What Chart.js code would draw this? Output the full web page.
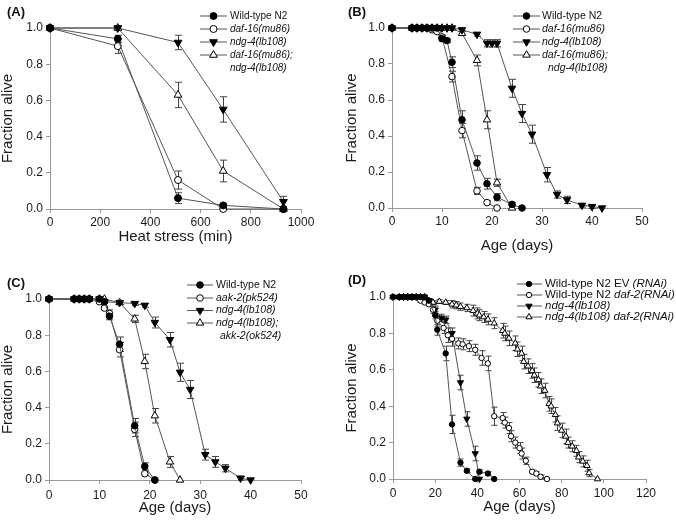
<!DOCTYPE html>
<html><head><meta charset="utf-8">
<script src="https://cdn.jsdelivr.net/npm/chart.js@4.4.1/dist/chart.umd.min.js"></script>
<style>
html,body{margin:0;padding:0;background:#fff;}
#wrap{position:relative;width:676px;height:521px;overflow:hidden;background:#fff;}
canvas{position:absolute;}
</style>
</head><body>
<div id="wrap">
<canvas id="cA" width="338" height="260" style="left:0;top:0;width:338px;height:260px"></canvas>
<canvas id="cB" width="338" height="260" style="left:338px;top:0;width:338px;height:260px"></canvas>
<canvas id="cC" width="338" height="261" style="left:0;top:260px;width:338px;height:261px"></canvas>
<canvas id="cD" width="338" height="261" style="left:338px;top:260px;width:338px;height:261px"></canvas>
</div>
<script>
// ---------- Panel A : heat stress ----------
const aTime = [0, 270, 510, 690, 930];
const aWT = [1.0, 0.94, 0.06, 0.02, 0.0];
const aWTErr = [0, 0.02, 0.03, 0.01, 0];
const aDaf16 = [1.0, 0.90, 0.16, 0.0, 0.0];
const aDaf16Err = [0, 0.04, 0.05, 0, 0];
const aNdg4 = [1.0, 1.0, 0.92, 0.55, 0.04];
const aNdg4Err = [0, 0, 0.04, 0.07, 0.03];
const aDouble = [1.0, 1.0, 0.63, 0.21, 0.0];
const aDoubleErr = [0, 0.01, 0.07, 0.06, 0];

// ---------- Panel B : lifespan daf-16 ----------
const bWTDays = [0,4,5,6,7,8,9,10,11,12,14,17,19,21,24,26];
const bWT = [1,1,1,1,1,1,1,0.94,0.93,0.81,0.49,0.25,0.135,0.06,0.02,0];
const bWTErr = [0,0,0,0,0,0,0,0.01,0.01,0.03,0.05,0.04,0.03,0.02,0.01,0];
const bDaf16Days = [0,4,5,6,7,8,9,10,12,14,17,19,21];
const bDaf16 = [1,1,1,1,1,0.99,0.98,0.95,0.73,0.43,0.095,0.03,0];
const bDaf16Err = [0,0,0,0,0,0,0,0.01,0.03,0.04,0.02,0.01,0];
const bNdg4Days = [0,4,5,6,7,8,9,10,11,12,14,17,19,20,21,24,26,28,31,33,35,38,40,42];
const bNdg4 = [1,1,1,1,1,1,1,1,1,1,0.99,0.965,0.915,0.915,0.915,0.665,0.525,0.41,0.185,0.075,0.045,0.015,0.008,0];
const bNdg4Err = [0,0,0,0,0,0,0,0,0,0,0,0.01,0.02,0.02,0.02,0.05,0.05,0.05,0.04,0.02,0.02,0.01,0.01,0];
const bDoubleDays = [0,4,5,6,7,8,9,10,11,12,14,17,19,21,24];
const bDouble = [1,1,1,1,1,1,1,1,1,1,0.97,0.82,0.49,0.14,0];
const bDoubleErr = [0,0,0,0,0,0,0,0,0,0,0.01,0.03,0.05,0.02,0];

// ---------- Panel C : lifespan aak-2 ----------
const cWTDays = [0,5,6,7,8,10,11,12,14,17,19,21];
const cWT = [1,1,1,1,1,1,0.985,0.905,0.75,0.30,0.075,0];
const cWTErr = [0,0,0,0,0,0,0.01,0.02,0.04,0.04,0.02,0];
const cAak2Days = [0,5,6,7,8,10,11,12,14,17,19,21];
const cAak2 = [1,1,1,1,1,0.985,0.95,0.92,0.72,0.28,0.035,0];
const cAak2Err = [0,0,0,0,0,0,0.01,0.02,0.04,0.04,0.01,0];
const cNdg4Days = [0,5,6,7,8,10,11,14,17,19,21,24,26,28,31,33,35,38,40];
const cNdg4 = [1,1,1,1,1,1,0.985,0.98,0.975,0.965,0.87,0.775,0.595,0.50,0.14,0.10,0.065,0.01,0];
const cNdg4Err = [0,0,0,0,0,0,0,0.01,0.01,0.01,0.03,0.04,0.05,0.05,0.03,0.03,0.02,0.01,0];
const cDoubleDays = [0,5,6,7,8,10,11,14,17,19,21,24,26];
const cDouble = [1,1,1,1,1,1,1,0.98,0.89,0.655,0.355,0.10,0];
const cDoubleErr = [0,0,0,0,0,0,0,0.01,0.02,0.04,0.04,0.03,0];

// ---------- Panel D : lifespan daf-2 RNAi ----------
const dEVDays = [0,3,5,7,9,11,13,15,17,20,21,25,28,32,35,39,41,45,48];
const dEV = [1,1,1,1,1,1,1,1,0.98,0.90,0.82,0.69,0.30,0.09,0.045,0,0.04,0.03,0];
const dEVErr = [0,0,0,0,0,0,0,0,0.01,0.02,0.03,0.04,0.05,0.02,0.01,0,0.01,0.01,0];
const dDaf2Days = [0,3,5,7,9,11,13,15,17,19,21,24,26,28,31,33,36,39,42,45,48,52,53,55,56,58,60,61,63,66,68,70,73];
const dDaf2 = [1,1,1,1,1,1,0.98,0.97,0.96,0.93,0.87,0.83,0.79,0.77,0.745,0.74,0.73,0.71,0.665,0.635,0.345,0.335,0.31,0.28,0.235,0.20,0.17,0.14,0.10,0.04,0.03,0.012,0];
const dDaf2Err = [0,0,0,0,0,0,0.01,0.01,0.01,0.02,0.03,0.03,0.04,0.04,0.03,0.03,0.03,0.03,0.04,0.04,0.05,0.03,0.03,0.03,0.03,0.03,0.03,0.03,0.02,0.01,0.01,0.01,0];
const dNdg4Days = [0,3,5,7,9,11,13,15,17,20,23,25,28,32,35,39,41];
const dNdg4 = [1,1,1,1,1,1,1,1,0.98,0.93,0.885,0.875,0.80,0.53,0.33,0.14,0];
const dNdg4Err = [0,0,0,0,0,0,0,0,0.01,0.02,0.02,0.02,0.03,0.04,0.04,0.04,0];
const dDoubleDays = [0,3,5,7,9,11,13,15,17,19,22,25,28,30,32,35,38,40,41,43,45,48,52,53,55,58,59,61,62,64,66,67,69,70,72,74,75,77,78,80,82,83,85,87,88,90,92,93,97];
const dDouble = [1,1,1,1,1,1,1,1,0.98,0.97,0.975,0.97,0.96,0.955,0.947,0.94,0.925,0.91,0.90,0.89,0.877,0.856,0.815,0.80,0.773,0.746,0.713,0.69,0.645,0.62,0.594,0.57,0.545,0.51,0.486,0.413,0.40,0.353,0.307,0.267,0.234,0.20,0.18,0.155,0.12,0.097,0.073,0.033,0];
const dDoubleErr = [0,0,0,0,0,0,0,0,0.01,0.01,0.01,0.01,0.02,0.02,0.02,0.02,0.03,0.03,0.03,0.03,0.03,0.03,0.04,0.04,0.04,0.04,0.04,0.04,0.04,0.04,0.04,0.04,0.04,0.04,0.04,0.04,0.04,0.04,0.04,0.04,0.04,0.03,0.03,0.03,0.03,0.03,0.03,0.02,0];

// ---------- text ----------
const yTitle = 'Fraction alive';
const aXTitle = 'Heat stress (min)';
const ageTitle = 'Age (days)';
// legend entries: list of [text, italic] segments; null marker = continuation line
const aLegend = [[['Wild-type N2',0]], [['daf-16(mu86)',1]], [['ndg-4(lb108)',1]], [['daf-16(mu86);',1]], [['ndg-4(lb108)',1]]];
const bLegend = aLegend;
const cLegend = [[['Wild-type N2',0]], [['aak-2(pk524)',1]], [['ndg-4(lb108)',1]], [['ndg-4(lb108);',1]], [['akk-2(ok524)',1]]];
const dLegend = [[['Wild-type N2 EV ',0],['(RNAi)',1]], [['Wild-type N2 ',0],['daf-2(RNAi)',1]], [['ndg-4(lb108)',1]], [['ndg-4(lb108) daf-2(RNAi)',1]]];
const legendMarkers4 = ['fc','oc','dt','ut',null];
const legendMarkersD = ['fc','oc','dt','ut'];

const FONT = "'Liberation Sans', Arial, Helvetica, sans-serif";
const STY = {
  fc:{ps:'circle', fill:'#000', rot:0, tri:false},
  oc:{ps:'circle', fill:'#fff', rot:0, tri:false},
  dt:{ps:'triangle', fill:'#000', rot:180, tri:true},
  ut:{ps:'triangle', fill:'#fff', rot:0, tri:true}
};

function drawMarker(ctx, st, x, y, rc, rt){
  ctx.beginPath();
  if(!st.tri){ ctx.arc(x, y, rc, 0, Math.PI*2); }
  else {
    let a = st.rot*Math.PI/180;
    for(let k=0;k<3;k++){
      const px = x + Math.sin(a)*rt, py = y - Math.cos(a)*rt;
      if(k===0) ctx.moveTo(px,py); else ctx.lineTo(px,py);
      a += Math.PI*2/3;
    }
    ctx.closePath();
  }
  ctx.fillStyle = st.fill; ctx.fill();
  ctx.strokeStyle = '#000'; ctx.lineWidth = 1; ctx.stroke();
}

const errorBars = {
  id:'errorBars',
  beforeDatasetsDraw(chart){
    const ctx = chart.ctx, ys = chart.scales.y;
    chart.data.datasets.forEach((ds,i)=>{
      if(!ds.errors) return;
      const meta = chart.getDatasetMeta(i);
      ctx.save();
      ctx.strokeStyle = '#444'; ctx.lineWidth = 1;
      meta.data.forEach((pt,j)=>{
        const e = ds.errors[j]; if(!e) return;
        const v = ds.data[j].y;
        const y1 = ys.getPixelForValue(v+e), y2 = ys.getPixelForValue(v-e);
        const x = Math.round(pt.x)+0.5, cw = ds.capW;
        ctx.beginPath();
        ctx.moveTo(x,y1); ctx.lineTo(x,y2);
        ctx.moveTo(x-cw,y1); ctx.lineTo(x+cw,y1);
        ctx.moveTo(x-cw,y2); ctx.lineTo(x+cw,y2);
        ctx.stroke();
      });
      ctx.restore();
    });
  }
};

const panelLegend = {
  id:'panelLegend',
  afterDraw(chart, args, o){
    const ctx = chart.ctx;
    ctx.save();
    ctx.textBaseline = 'middle'; ctx.textAlign = 'left'; ctx.fillStyle = '#111';
    ctx.font = 'bold 13px ' + FONT;
    ctx.fillText(o.label, o.labelX, o.labelY);
    o.items.forEach((segs,k)=>{
      const y = o.rows[k];
      const mk = o.markers[k];
      let x = o.textX2;
      if(mk){
        ctx.strokeStyle = '#555'; ctx.lineWidth = 1;
        ctx.beginPath(); ctx.moveTo(o.lineX0, y); ctx.lineTo(o.lineX1, y); ctx.stroke();
        drawMarker(ctx, STY[mk], o.markX, y, o.rc, o.rt);
        x = o.textX;
      }
      ctx.fillStyle = '#111';
      segs.forEach(([t,it])=>{
        ctx.font = (it?'italic ':'') + o.size + 'px ' + FONT;
        ctx.fillText(t, x, y);
        x += ctx.measureText(t).width;
      });
    });
    ctx.restore();
  }
};

function makePanel(id, c){
  const datasets = c.series.map(s=>{
    const st = STY[s.st];
    return {
      data: s.x.map((x,i)=>({x:x, y:s.y[i]})),
      errors: s.err, capW: c.capW,
      showLine:true, borderColor:'#555', borderWidth:1, fill:false, tension:0,
      pointStyle: st.ps, pointRotation: st.rot,
      pointRadius: st.tri ? c.rt : c.rc, pointHoverRadius: st.tri ? c.rt : c.rc,
      pointBackgroundColor: st.fill, pointBorderColor:'#000', pointBorderWidth:1,
      clip:false
    };
  });
  const tickFont = {family:FONT, size:12};
  const titleFont = {family:FONT, size:15};
  new Chart(document.getElementById(id), {
    type:'scatter',
    data:{datasets},
    options:{
      responsive:false, animation:false, events:[],
      layout:{padding:{left:0, top:c.top, right:c.right, bottom:0}},
      plugins:{legend:{display:false}, tooltip:{enabled:false}, panelLegend:c.legend},
      scales:{
        x:{type:'linear', min:0, max:c.xmax,
           afterFit:(s)=>{ s.height = c.xh; },
           ticks:{stepSize:c.xstep, padding:c.xpad, color:'#1a1a1a', font:tickFont, maxRotation:0, autoSkip:false, callback:(v)=>String(v)},
           grid:{display:true, drawOnChartArea:false, drawTicks:true, tickLength:4, color:'#999'},
           border:{display:true, color:'#999'},
           title:{display:true, text:c.xtitle, color:'#1a1a1a', font:titleFont, padding:{top:0, bottom:c.xtpad}}},
        y:{type:'linear', min:0, max:1,
           afterFit:(s)=>{ s.width = c.yw; },
           ticks:{stepSize:0.2, padding:3, color:'#1a1a1a', font:tickFont, callback:(v)=>Number(v).toFixed(1)},
           grid:{display:true, drawOnChartArea:false, drawTicks:true, tickLength:4, color:'#999'},
           border:{display:true, color:'#999'},
           title:{display:true, text:yTitle, color:'#1a1a1a', font:titleFont, padding:{top:c.ytpad, bottom:0}}}
      }
    },
    plugins:[errorBars, panelLegend]
  });
}

makePanel('cA', {
  top:28, right:37, yw:50, xh:51, xmax:1000, xstep:200, xpad:2, xtpad:14, ytpad:-1,
  xtitle:aXTitle, rc:3.5, rt:4.5, capW:3.5,
  series:[
    {x:aTime, y:aWT, err:aWTErr, st:'fc'},
    {x:aTime, y:aDaf16, err:aDaf16Err, st:'oc'},
    {x:aTime, y:aNdg4, err:aNdg4Err, st:'dt'},
    {x:aTime, y:aDouble, err:aDoubleErr, st:'ut'}
  ],
  legend:{label:'(A)', labelX:7, labelY:12, items:aLegend, markers:legendMarkers4,
    rows:[16,29,42,55,68], lineX0:200, lineX1:227, markX:213.5, textX:230, textX2:230, size:10, rc:3.5, rt:4.5}
});

makePanel('cB', {
  top:28, right:34, yw:54, xh:52, xmax:50, xstep:10, xpad:2, xtpad:5, ytpad:5,
  xtitle:ageTitle, rc:3.3, rt:4.3, capW:3.5,
  series:[
    {x:bWTDays, y:bWT, err:bWTErr, st:'fc'},
    {x:bDaf16Days, y:bDaf16, err:bDaf16Err, st:'oc'},
    {x:bNdg4Days, y:bNdg4, err:bNdg4Err, st:'dt'},
    {x:bDoubleDays, y:bDouble, err:bDoubleErr, st:'ut'}
  ],
  legend:{label:'(B)', labelX:10, labelY:12, items:bLegend, markers:legendMarkers4,
    rows:[16,29,42,55,68], lineX0:175, lineX1:202, markX:188.5, textX:204, textX2:210, size:10.5, rc:3.3, rt:4.3}
});

makePanel('cC', {
  top:39, right:37, yw:49, xh:41, xmax:50, xstep:10, xpad:4, xtpad:4.5, ytpad:-1,
  xtitle:ageTitle, rc:3.3, rt:4.3, capW:3.5,
  series:[
    {x:cWTDays, y:cWT, err:cWTErr, st:'fc'},
    {x:cAak2Days, y:cAak2, err:cAak2Err, st:'oc'},
    {x:cNdg4Days, y:cNdg4, err:cNdg4Err, st:'dt'},
    {x:cDoubleDays, y:cDouble, err:cDoubleErr, st:'ut'}
  ],
  legend:{label:'(C)', labelX:7, labelY:23, items:cLegend, markers:legendMarkers4,
    rows:[25,38,50.5,63,76], lineX0:187, lineX1:213, markX:200, textX:216, textX2:220, size:10.5, rc:3.3, rt:4.3}
});

makePanel('cD', {
  top:37, right:30, yw:55, xh:42, xmax:120, xstep:20, xpad:3, xtpad:4.7, ytpad:5,
  xtitle:ageTitle, rc:2.7, rt:3.6, capW:3,
  series:[
    {x:dEVDays, y:dEV, err:dEVErr, st:'fc'},
    {x:dDaf2Days, y:dDaf2, err:dDaf2Err, st:'oc'},
    {x:dNdg4Days, y:dNdg4, err:dNdg4Err, st:'dt'},
    {x:dDoubleDays, y:dDouble, err:dDoubleErr, st:'ut'}
  ],
  legend:{label:'(D)', labelX:10, labelY:20, items:dLegend, markers:legendMarkersD,
    rows:[24,35,46,57], lineX0:179, lineX1:204, markX:191, textX:207, textX2:207, size:11.5, rc:2.7, rt:3.6}
});
</script>
</body></html>
